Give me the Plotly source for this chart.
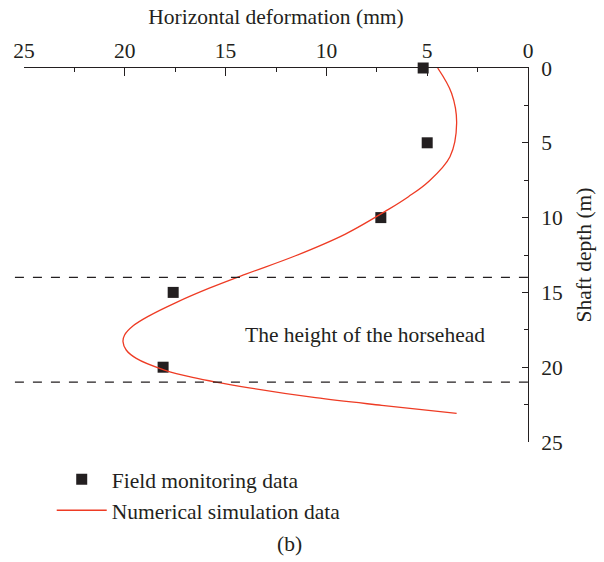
import plotly.graph_objects as go

# Field monitoring: horizontal deformation (mm) vs shaft depth (m)
field_deform = [5.2, 5.0, 7.3, 17.6, 18.1]
field_depth = [0, 5, 10, 15, 20]

# Numerical simulation profile
sim_deform = [4.48, 3.79, 3.54, 3.87, 4.94, 5.93, 6.92, 9.06, 11.53, 14.0,
              15.81, 17.46, 18.77, 19.6, 20.01, 20.09, 19.93, 19.43, 18.03,
              16.64, 13.83, 10.54, 7.25, 3.54]
sim_depth = [0, 1.69, 3.7, 5.93, 7.6, 8.6, 9.45, 11.1, 12.55, 13.78,
             14.72, 15.68, 16.55, 17.25, 17.85, 18.29, 18.85, 19.41, 20.19,
             20.68, 21.38, 22.04, 22.55, 23.08]

# Horsehead zone boundaries (m)
horsehead_bounds = [14, 21]

FONT = "Liberation Serif"
FS = 21.5
INK = "#231f20"

fig = go.Figure()
fig.add_trace(go.Scatter(
    x=field_deform, y=field_depth, mode="markers", name="Field monitoring data",
    marker=dict(symbol="square", size=11, color=INK), cliponaxis=False,
))
fig.add_trace(go.Scatter(
    x=sim_deform, y=sim_depth, mode="lines", name="Numerical simulation data",
    line=dict(color="#ee3b24", width=1.3, shape="spline", smoothing=1.0),
))

for d in horsehead_bounds:
    fig.add_shape(type="line", xref="x domain", yref="y",
                  x0=-0.018, x1=1, y0=d, y1=d,
                  line=dict(color=INK, width=1.2, dash="dash"))

fig.add_annotation(x=8.07, y=17.85, xref="x", yref="y",
                   text="The height of the horsehead", showarrow=False,
                   font=dict(family=FONT, size=FS, color=INK))
fig.add_annotation(x=0.526, y=-0.31, xref="paper", yref="paper",
                   text="(b)", showarrow=False,
                   font=dict(family=FONT, size=FS, color=INK))

fig.update_layout(
    width=604, height=562,
    margin=dict(l=24, r=74, t=68, b=120),
    paper_bgcolor="white", plot_bgcolor="white",
    font=dict(family=FONT, size=FS, color=INK),
    showlegend=True,
    legend=dict(x=0.055, y=-0.045, xanchor="left", yanchor="top",
                bgcolor="rgba(0,0,0,0)", font=dict(family=FONT, size=FS),
                itemwidth=50, tracegroupgap=0),
    xaxis=dict(
        range=[25, 0], side="top", showgrid=False, zeroline=False,
        showline=True, linecolor=INK, linewidth=1,
        ticks="inside", ticklen=8, tickwidth=1, tickcolor=INK,
        tickvals=[25, 20, 15, 10, 5, 0],
        minor=dict(ticks="inside", ticklen=4, tickwidth=1, tickcolor=INK,
                   dtick=2.5, showgrid=False),
        title=dict(text="Horizontal deformation (mm)", standoff=8,
                   font=dict(family=FONT, size=FS)),
        tickfont=dict(family=FONT, size=FS),
    ),
    yaxis=dict(
        range=[25, 0], side="right", showgrid=False, zeroline=False,
        showline=True, linecolor=INK, linewidth=1,
        ticks="inside", ticklen=6, tickwidth=1, tickcolor=INK,
        tickvals=[0, 5, 10, 15, 20, 25],
        minor=dict(ticks="inside", ticklen=4, tickwidth=1, tickcolor=INK,
                   dtick=2.5, showgrid=False),
        ticklabelstandoff=8,
        title=dict(text="Shaft depth (m)", standoff=14,
                   font=dict(family=FONT, size=FS)),
        tickfont=dict(family=FONT, size=FS),
    ),
)

fig.write_html("out.html")
